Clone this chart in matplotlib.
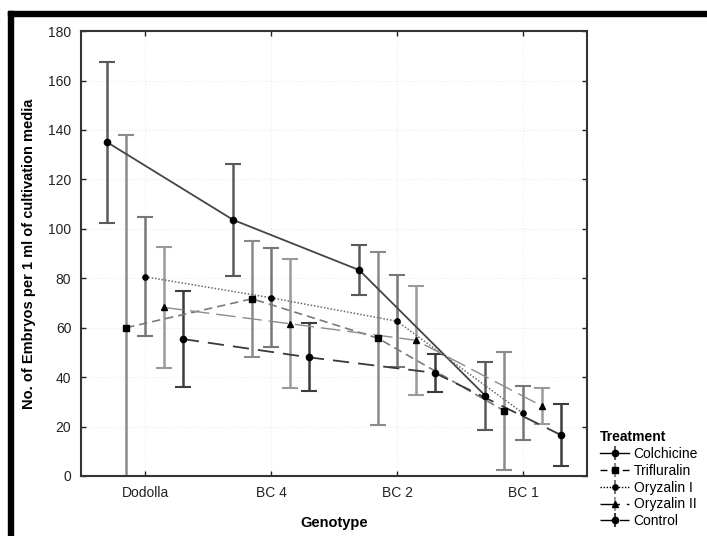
import numpy as np
import matplotlib
matplotlib.use("Agg")
import matplotlib.pyplot as plt
from matplotlib.patches import Rectangle

plt.rcParams['font.family'] = ['Liberation Sans', 'DejaVu Sans']

genotypes = ["Dodolla", "BC 4", "BC 2", "BC 1"]
treatments = ["Colchicine", "Trifluralin", "Oryzalin I", "Oryzalin II", "Control"]

# mean embryo counts and half-width of the error bars per genotype
colchicine = [135.0, 103.6, 83.3, 32.5]
colchicine_err = [32.5, 22.5, 10.0, 13.8]
trifluralin = [60.0, 71.7, 55.7, 26.4]
trifluralin_err = [78.0, 23.5, 35.0, 23.8]
oryzalin_1 = [80.6, 72.1, 62.6, 25.4]
oryzalin_1_err = [24.0, 20.0, 18.6, 11.0]
oryzalin_2 = [68.2, 61.6, 54.9, 28.3]
oryzalin_2_err = [24.5, 26.0, 22.0, 7.4]
control = [55.4, 48.0, 41.7, 16.6]
control_err = [19.4, 13.8, 7.6, 12.5]

means = [colchicine, trifluralin, oryzalin_1, oryzalin_2, control]
errors = [colchicine_err, trifluralin_err, oryzalin_1_err, oryzalin_2_err, control_err]

offsets = [-0.3, -0.15, 0.0, 0.15, 0.3]
markers = ['o', 's', 'o', '^', 'o']
msizes = [4.5, 4.5, 3.8, 3.8, 4.5]
line_colors = ['#454545', '#7a7a7a', '#6a6a6a', '#8c8c8c', '#3a3a3a']
bar_colors = ['#5a5a5a', '#8a8a8a', '#777777', '#9a9a9a', '#3c3c3c']
line_styles = ['-', (0, (5, 3)), (0, (1, 1.2)), (0, (14, 5)), (0, (9, 5))]
line_widths = [1.3, 1.2, 1.1, 1.0, 1.3]

fig = plt.figure(figsize=(7.07, 5.36), dpi=100)
ax = fig.add_axes([0.1146, 0.112, 0.7157, 0.830])

x = np.arange(len(genotypes))
for i, name in enumerate(treatments):
    xs = x + offsets[i]
    ax.errorbar(xs, means[i], yerr=errors[i], fmt='none', ecolor=bar_colors[i],
                elinewidth=1.8, capsize=5.5, capthick=1.5, zorder=2)
    ax.plot(xs, means[i], linestyle=line_styles[i], color=line_colors[i],
            linewidth=line_widths[i], zorder=3)
    ax.plot(xs, means[i], linestyle='none', marker=markers[i], markersize=msizes[i],
            color='black', zorder=4)

# legend handles: marker with error bar, plus series line style
handles = []
for i, name in enumerate(treatments):
    h = ax.errorbar([], [], yerr=[], fmt=markers[i], color='black', markersize=msizes[i],
                    ecolor=bar_colors[i], elinewidth=1.5, capsize=4, capthick=1.2,
                    linestyle=line_styles[i], linewidth=1.0, label=name)
    handles.append(h)
leg = ax.legend(handles=handles, title="Treatment", loc='upper left',
                bbox_to_anchor=(1.015, 0.115), frameon=False, fontsize=10,
                handlelength=2.1, handletextpad=0.3, labelspacing=0.2,
                borderaxespad=0.0, alignment='left')
leg.get_title().set_fontweight('bold')
leg.get_title().set_fontsize(10)

ax.set_xlim(-0.508, 3.508)
ax.set_ylim(0, 180)
ax.set_xticks(x)
ax.set_xticklabels(genotypes)
ax.set_yticks(np.arange(0, 181, 20))
ax.tick_params(direction='in', top=True, right=True, length=3.5, width=1.0,
               labelsize=10, colors='#222222', pad=7)
ax.grid(True, color='#ececec', linewidth=0.8, linestyle=':')
ax.set_axisbelow(True)
for s in ax.spines.values():
    s.set_linewidth(1.5)
    s.set_color('#333333')

ax.set_xlabel("Genotype", fontsize=10.5, fontweight='bold', labelpad=12)
ax.set_ylabel("No. of Embryos per 1 ml of cultivation media", fontsize=10.5,
              fontweight='bold', labelpad=9)

# thick frame along the top and left edge of the figure
fig.add_artist(Rectangle((8 / 707, (536 - 16) / 536), 1 - 8 / 707, 5 / 536,
                         transform=fig.transFigure, color='black', zorder=10))
fig.add_artist(Rectangle((8 / 707, 0), 5 / 707, (536 - 11) / 536,
                         transform=fig.transFigure, color='black', zorder=10))

fig.savefig("out.png", dpi=100)
